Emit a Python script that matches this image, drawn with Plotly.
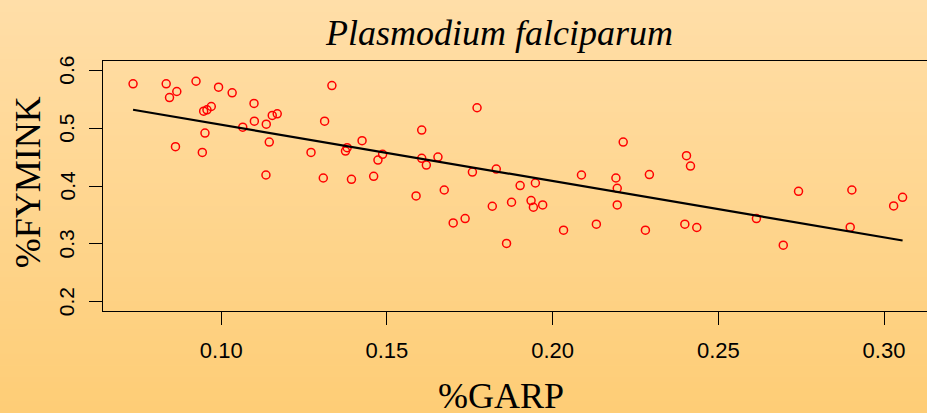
import numpy as np
import plotly.graph_objects as go

# ---- data ----
garp = [0.0734, 0.0834, 0.0866, 0.0844, 0.0924, 0.0992, 0.1033, 0.1099, 0.0947, 0.0957,
        0.0970, 0.1100, 0.1065, 0.1136, 0.1154, 0.1169, 0.0951, 0.1145, 0.0862, 0.0943,
        0.1135, 0.1271, 0.1312, 0.1334, 0.1375, 0.1380, 0.1425, 0.1473, 0.1308, 0.1393,
        0.1460, 0.1487, 0.1772, 0.1605, 0.1605, 0.1654, 0.1619, 0.1758, 0.1830, 0.1902,
        0.1948, 0.2087, 0.2191, 0.2195, 0.2213, 0.2292, 0.1588, 0.1673, 0.1818, 0.1876,
        0.1935, 0.1942, 0.1970, 0.2195, 0.1700, 0.1736, 0.1861, 0.2033, 0.2132, 0.2280,
        0.2404, 0.2416, 0.2742, 0.2903, 0.3056, 0.3029, 0.2399, 0.2435, 0.2615, 0.2696,
        0.2898]
fymink = [0.5766, 0.5766, 0.5633, 0.5529, 0.5810, 0.5707, 0.5610, 0.5426, 0.5293, 0.5317,
          0.5374, 0.5121, 0.5017, 0.5069, 0.5219, 0.5248, 0.4914, 0.4759, 0.4679, 0.4581,
          0.4190, 0.4581, 0.5121, 0.5736, 0.4603, 0.4662, 0.4783, 0.4448, 0.4138, 0.4116,
          0.4167, 0.4547, 0.5352, 0.4966, 0.4478, 0.4500, 0.4362, 0.4241, 0.4293, 0.4007,
          0.4052, 0.4190, 0.4138, 0.3960, 0.4759, 0.4197, 0.3828, 0.3931, 0.3650, 0.3719,
          0.3748, 0.3633, 0.3672, 0.3672, 0.3362, 0.3438, 0.3007, 0.3236, 0.3340, 0.3236,
          0.4524, 0.4345, 0.3909, 0.3931, 0.3805, 0.3655, 0.3340, 0.3283, 0.3438, 0.2978,
          0.3288]

x_ticks = [0.10, 0.15, 0.20, 0.25, 0.30]
x_tick_labels = ["0.10", "0.15", "0.20", "0.25", "0.30"]
y_ticks = [0.2, 0.3, 0.4, 0.5, 0.6]
y_tick_labels = ["0.2", "0.3", "0.4", "0.5", "0.6"]

title_text = "Plasmodium falciparum"
x_title = "%GARP"
y_title = "%FYMINK"

# ---- layout geometry ----
W, H = 927, 413
ML, MR, MT, MB = 102.5, 0, 61, 101.5
PW = W - ML - MR
PH = H - MT - MB


def px_x(px):
    return (px - ML) / PW


def px_y(py):
    return 1 - (py - MT) / PH


# regression line
slope, intercept = np.polyfit(garp, fymink, 1)
fit_x = np.array([min(garp), max(garp)])
fit_y = slope * fit_x + intercept

fig = go.Figure()
fig.add_trace(go.Scatter(
    x=garp, y=fymink, mode="markers",
    marker=dict(symbol="circle-open", size=8, color="#FF0000",
                line=dict(width=1.5, color="#FF0000")),
    hoverinfo="skip", showlegend=False))
fig.add_trace(go.Scatter(
    x=fit_x, y=fit_y, mode="lines",
    line=dict(color="black", width=2.2),
    hoverinfo="skip", showlegend=False))

# gradient background (bands)
top = np.array([255, 222, 168])
bot = np.array([254, 205, 118])
n = 70
shapes = []
for i in range(n):
    y0 = H * i / n
    y1 = H * (i + 1) / n + 0.6
    t = (i + 0.5) / n
    c = top + (bot - top) * t
    shapes.append(dict(
        type="rect", xref="paper", yref="paper", layer="below",
        x0=px_x(-2), x1=px_x(W + 2), y0=px_y(y1), y1=px_y(y0),
        line=dict(width=0), fillcolor="rgb(%d,%d,%d)" % tuple(np.round(c))))

serif = "Liberation Serif"
sans = "Liberation Sans"

annotations = [
    dict(text=title_text, x=px_x(499), y=px_y(33), xref="paper", yref="paper",
         showarrow=False, xanchor="center", yanchor="middle",
         font=dict(family=serif, size=36, color="black", style="italic")),
    dict(text=x_title, x=px_x(501), y=px_y(397), xref="paper", yref="paper",
         showarrow=False, xanchor="center", yanchor="middle",
         font=dict(family=serif, size=36, color="black")),
    dict(text=y_title, x=px_x(27), y=px_y(183), xref="paper", yref="paper",
         showarrow=False, xanchor="center", yanchor="middle", textangle=-90,
         font=dict(family=serif, size=36, color="black")),
]
# rotated y tick labels placed at tick values
for v, lab in zip(y_ticks, y_tick_labels):
    annotations.append(dict(
        text=lab, x=px_x(66), y=v, xref="paper", yref="y",
        showarrow=False, xanchor="center", yanchor="middle", textangle=-90,
        font=dict(family=sans, size=21, color="black")))

fig.update_layout(
    template="none",
    width=W, height=H,
    margin=dict(l=ML, r=MR, t=MT, b=MB, pad=0, autoexpand=False),
    paper_bgcolor="rgb(254,214,142)",
    plot_bgcolor="rgba(0,0,0,0)",
    shapes=shapes,
    annotations=annotations,
    showlegend=False,
)
fig.update_xaxes(
    range=[0.06433, 0.31297], tickmode="array", tickvals=x_ticks, ticktext=x_tick_labels,
    showgrid=False, zeroline=False, showline=True, linecolor="black", linewidth=1,
    mirror=True, ticks="outside", ticklen=12.6, tickwidth=1, tickcolor="black",
    automargin=False,
    tickfont=dict(family=sans, size=22, color="black"), ticklabelstandoff=7)
fig.update_yaxes(
    range=[0.184, 0.616], tickmode="array", tickvals=y_ticks, showticklabels=False,
    showgrid=False, zeroline=False, showline=True, linecolor="black", linewidth=1,
    mirror=False, ticks="outside", ticklen=13, tickwidth=1, tickcolor="black",
    automargin=False)

fig.write_html(
    "out.html",
    config={"displayModeBar": False, "staticPlot": True},
    post_script="document.body.style.margin='0';document.body.style.overflow='hidden';")
